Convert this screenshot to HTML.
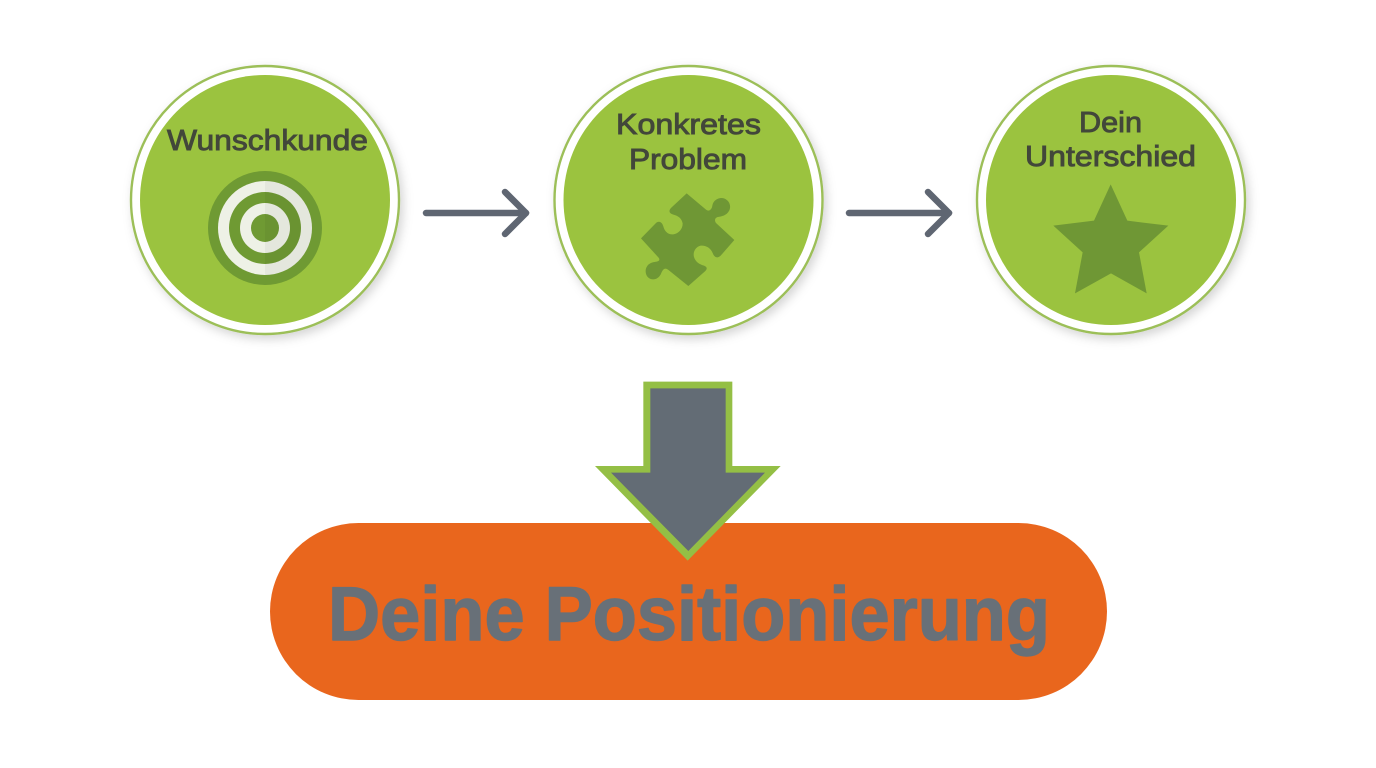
<!DOCTYPE html>
<html lang="de">
<head>
<meta charset="utf-8">
<title>Deine Positionierung</title>
<style>
html,body{margin:0;padding:0;background:#fff;width:1376px;height:768px;overflow:hidden}
svg{display:block}
text{font-family:"Liberation Sans",sans-serif}
.lbl{font-size:29px;font-weight:400;fill:#42473a;stroke:#42473a;stroke-width:.9px;text-anchor:start}
</style>
</head>
<body>
<svg width="1376" height="768" viewBox="0 0 1376 768" xmlns="http://www.w3.org/2000/svg">
<defs>
<filter id="sh" x="-15%" y="-15%" width="135%" height="135%">
<feDropShadow dx="3" dy="4" stdDeviation="5" flood-color="#000" flood-opacity=".17"/>
</filter>
</defs>

<rect width="1376" height="768" fill="#fff"/>

<!-- Circle 1 -->
<circle cx="265" cy="200" r="134" fill="#fff" stroke="#9cbf58" stroke-width="2.4" filter="url(#sh)"/>
<circle cx="265" cy="200" r="125" fill="#9bc33f"/>
<circle cx="265" cy="228" r="57" fill="#6f9a33"/>
<circle cx="265" cy="228" r="47" fill="#eef1e6"/>
<circle cx="265" cy="228" r="36" fill="#6f9a33"/>
<circle cx="265" cy="228" r="25" fill="#eef1e6"/>
<circle cx="265" cy="228" r="14" fill="#6f9a33"/>
<path d="M265 181A47 47 0 0 1 265 275Z" fill="#000" opacity=".04"/>
<text class="lbl" x="167" y="150" textLength="201" lengthAdjust="spacingAndGlyphs">Wunschkunde</text>

<!-- Arrow 1 -->
<g fill="none" stroke="#5f6672" stroke-width="6.5" stroke-linecap="round" stroke-linejoin="round">
<path d="M426 213H526"/>
<path d="M505 192L526 213L505 234"/>
</g>

<!-- Circle 2 -->
<circle cx="688.5" cy="200" r="134" fill="#fff" stroke="#9cbf58" stroke-width="2.4" filter="url(#sh)"/>
<circle cx="688.5" cy="200" r="125" fill="#9bc33f"/>
<g transform="translate(630 185) scale(.33333)">
<path fill="#6f9735" d="M170 25L228 74C238 82 246 72 247 62C250 44 268 36 282 40C298 46 304 62 298 76C290 92 274 94 264 96C254 98 252 108 260 116L313 165L272 212C262 222 252 216 248 204C242 188 226 180 212 182C196 186 188 202 192 216C196 230 208 238 222 242C232 246 232 252 226 258L175 303L114 254C104 246 98 254 94 264C88 280 74 286 62 282C46 276 44 256 50 246C56 234 68 232 80 230C90 228 90 222 84 216L33 160L78 114C88 106 96 112 100 124C104 140 116 150 130 148C146 146 158 132 158 116C156 100 144 92 128 88C116 84 116 76 124 68Z"/>
</g>
<text class="lbl" x="616" y="134" textLength="145" lengthAdjust="spacingAndGlyphs">Konkretes</text>
<text class="lbl" x="629" y="169" textLength="118" lengthAdjust="spacingAndGlyphs">Problem</text>

<!-- Arrow 2 -->
<g fill="none" stroke="#5f6672" stroke-width="6.5" stroke-linecap="round" stroke-linejoin="round">
<path d="M849 213H949"/>
<path d="M928 192L949 213L928 234"/>
</g>

<!-- Circle 3 -->
<circle cx="1111" cy="200" r="134" fill="#fff" stroke="#9cbf58" stroke-width="2.4" filter="url(#sh)"/>
<circle cx="1111" cy="200" r="125" fill="#9bc33f"/>
<g transform="translate(960 55) scale(.33333)">
<path fill="#6f9735" d="M452 388L502 497L625 512L537 592L560 715L453 655L345 715L368 592L280 512L402 497Z"/>
</g>
<text class="lbl" x="1079" y="132" textLength="63" lengthAdjust="spacingAndGlyphs">Dein</text>
<text class="lbl" x="1025" y="166" textLength="171" lengthAdjust="spacingAndGlyphs">Unterschied</text>

<!-- Orange pill -->
<rect x="270" y="523" width="837" height="177" rx="88.5" ry="88.5" fill="#e9661d"/>
<text x="328" y="640" font-size="76" font-weight="700" fill="#687078" stroke="#687078" stroke-width="1.4" stroke-linejoin="round" textLength="722" lengthAdjust="spacingAndGlyphs">Deine Positionierung</text>

<!-- Down arrow -->
<g transform="translate(560 370) scale(.33333)">
<path fill="#94bf45" d="M250 35H517V288H662L383 572L105 288H250Z"/>
<path fill="#636c75" d="M271 55H497V308H615L385 543L153 308H271Z"/>
</g>
</svg>
</body>
</html>
